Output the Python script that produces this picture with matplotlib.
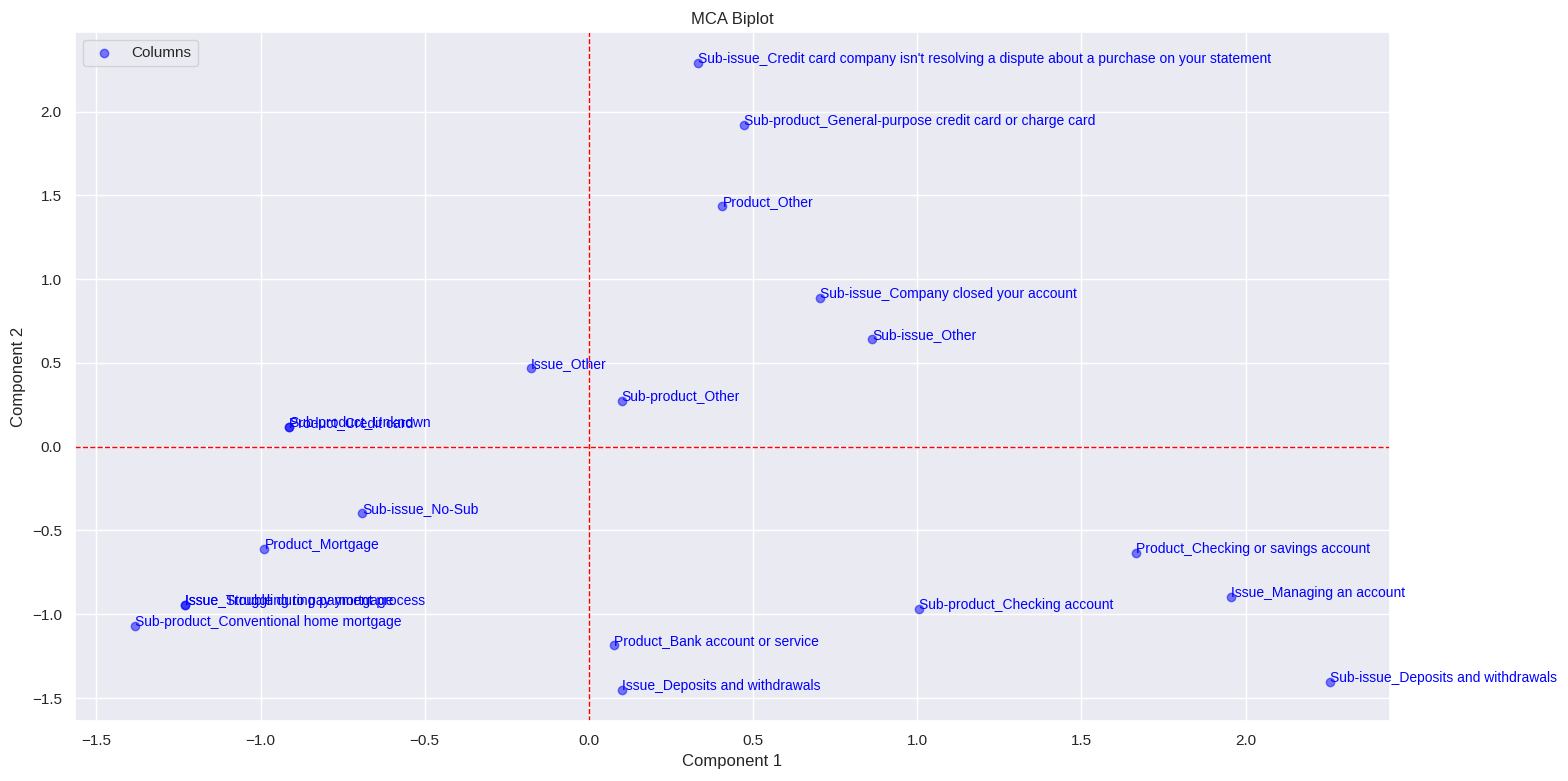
import matplotlib
matplotlib.use("Agg")
import matplotlib.pyplot as plt
import seaborn as sns

# column coordinates from the MCA
labels = [
    "Sub-issue_Credit card company isn't resolving a dispute about a purchase on your statement",
    "Sub-product_General-purpose credit card or charge card",
    "Product_Other",
    "Sub-issue_Company closed your account",
    "Sub-issue_Other",
    "Issue_Other",
    "Sub-product_Other",
    "Product_Credit card",
    "Sub-product_Unknown",
    "Sub-issue_No-Sub",
    "Product_Mortgage",
    "Issue_Struggling to pay mortgage",
    "Issue_Trouble during payment process",
    "Sub-product_Conventional home mortgage",
    "Product_Bank account or service",
    "Issue_Deposits and withdrawals",
    "Sub-product_Checking account",
    "Product_Checking or savings account",
    "Issue_Managing an account",
    "Sub-issue_Deposits and withdrawals",
]
comp1 = [0.331, 0.474, 0.407, 0.705, 0.863, -0.176, 0.100, -0.912, -0.912, -0.690,
         -0.988, -1.231, -1.231, -1.383, 0.076, 0.100, 1.006, 1.665, 1.957, 2.258]
comp2 = [2.288, 1.919, 1.438, 0.885, 0.642, 0.469, 0.273, 0.119, 0.119, -0.398,
         -0.612, -0.945, -0.945, -1.070, -1.182, -1.450, -0.968, -0.636, -0.897, -1.402]

sns.set_theme(style="darkgrid")
plt.rcParams['font.family'] = ['Liberation Sans', 'DejaVu Sans']

fig, ax = plt.subplots(figsize=(15.68, 7.81), dpi=100)
ax.scatter(comp1, comp2, color='blue', alpha=0.5, label='Columns')
for x, y, t in zip(comp1, comp2, labels):
    ax.text(x, y, t, color='blue', fontsize=10)

ax.axhline(0, color='red', linestyle='--', linewidth=1)
ax.axvline(0, color='red', linestyle='--', linewidth=1)
ax.set_title('MCA Biplot')
ax.set_xlabel('Component 1')
ax.set_ylabel('Component 2')
ax.legend(loc='upper left')

# the original was saved with a tight bbox, labels overflow on the right
fig.subplots_adjust(left=75 / 1568, right=1390 / 1568, top=1 - 32 / 781, bottom=1 - 721 / 781)
plt.savefig('out.png')
